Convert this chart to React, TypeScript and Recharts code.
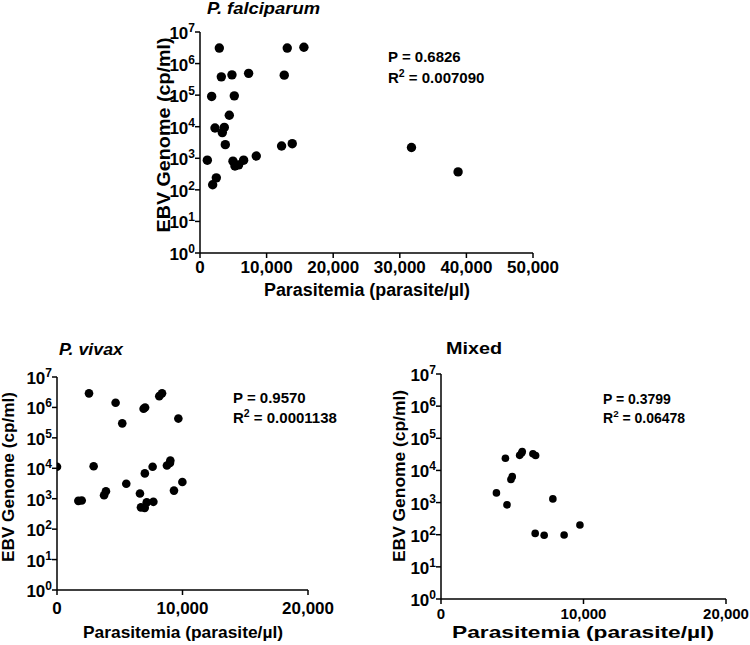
import React from "react";
import { ScatterChart, Scatter, XAxis, YAxis } from "recharts";

// P. falciparum
const FALC_PARASITEMIA = [
  1100, 1900, 1750, 2250, 2450, 2900, 3200, 3350, 3650, 3800, 4400, 4800, 5150,
  4950, 5250, 5800, 6550, 7300, 8450, 12250, 12650, 13100, 13850, 15600, 31750, 38750,
];
const FALC_EBV = [
  870, 145, 91000, 9100, 240, 3100000, 380000, 6500, 9500, 2700, 23000, 440000, 95000,
  810, 570, 620, 870, 490000, 1180, 2450, 430000, 3100000, 2900, 3300000, 2200, 370,
];

// P. vivax
const VIVAX_PARASITEMIA = [
  0, 1700, 1970, 2550, 2920, 3750, 3900, 4670, 5200, 5520, 6610, 6690, 6990, 6900,
  7020, 7000, 7150, 7620, 7680, 8150, 8370, 8760, 9000, 9030, 9320, 9670, 9990,
];
const VIVAX_EBV = [
  11200, 850, 870, 2900000, 11700, 1300, 1750, 1420000, 300000, 3100, 1480, 520, 500,
  900000, 1000000, 6800, 760, 11200, 790, 2350000, 2900000, 12300, 15000, 18000, 1850,
  430000, 3550,
];

// Mixed
const MIXED_PARASITEMIA = [
  3890, 4520, 4630, 4910, 5000, 5520, 5660, 5700, 6450, 6640, 6610, 7240, 7850, 8640, 9750,
];
const MIXED_EBV = [
  2000, 24000, 850, 5200, 6400, 29500, 35000, 39000, 33000, 29000, 110, 96, 1300, 98, 200,
];

const Y_TICKS = [1, 10, 100, 1000, 10000, 100000, 1000000, 10000000];
const X_TICKS_WIDE = [0, 10000, 20000, 30000, 40000, 50000];
const X_TICKS_NARROW = [0, 10000, 20000];

const FONT = "'Liberation Sans', Arial, Helvetica, sans-serif";

function zip(xs: number[], ys: number[]) {
  return xs.map((x, i) => ({ x, y: ys[i] }));
}

function YTick(props: any) {
  const { x, y, payload } = props;
  const exp = Math.round(Math.log10(payload.value));
  return (
    <text x={x} y={y + 7} textAnchor="end" fontSize={17} fontWeight="bold" fill="#000" fontFamily={FONT}>
      10
      <tspan fontSize={12} dy={-7}>
        {exp}
      </tspan>
    </text>
  );
}

function makeXTick(offset: number, size: number) {
  return (props: any) => {
    const { x, y, payload } = props;
    return (
      <text x={x} y={y + offset} textAnchor="middle" fontSize={size} fontWeight="bold" fill="#000" fontFamily={FONT}>
        {payload.value.toLocaleString("en-US")}
      </text>
    );
  };
}

type PanelProps = {
  data: { x: number; y: number }[];
  left: number;
  top: number;
  width: number;
  height: number;
  margin: { top: number; right: number; bottom: number; left: number };
  yAxisWidth: number;
  xMax: number;
  xTicks: number[];
  xTickOffset: number;
  xTickSize: number;
  dotR: number;
  title: string;
  titleItalic: boolean;
  titlePos: [number, number, number, number]; // x, y, size, length
  stat: [string, string];
  statPos: [number, number, number, number]; // x, y1, y2, size
  xTitle: [number, number, number, number]; // cx, y, size, length
  yTitle: [number, number, number, number]; // x, cy, size, length
};

function Panel(p: PanelProps) {
  return (
    <div style={{ position: "absolute", left: p.left, top: p.top }}>
      <ScatterChart width={p.width} height={p.height} margin={p.margin}>
        <XAxis
          type="number"
          dataKey="x"
          domain={[0, p.xMax]}
          ticks={p.xTicks}
          interval={0}
          height={30}
          tickSize={5}
          tickMargin={0}
          axisLine={{ stroke: "#000", strokeWidth: 1.5 }}
          tickLine={{ stroke: "#000", strokeWidth: 1.5 }}
          tick={makeXTick(p.xTickOffset, p.xTickSize)}
          allowDataOverflow
        />
        <YAxis
          type="number"
          dataKey="y"
          scale="log"
          domain={[1, 10000000]}
          ticks={Y_TICKS}
          interval={0}
          width={p.yAxisWidth}
          tickSize={5}
          tickMargin={0}
          axisLine={{ stroke: "#000", strokeWidth: 1.5 }}
          tickLine={{ stroke: "#000", strokeWidth: 1.5 }}
          tick={<YTick />}
          allowDataOverflow
        />
        <Scatter
          data={p.data}
          isAnimationActive={false}
          shape={(s: any) => <circle cx={s.cx} cy={s.cy} r={p.dotR} fill="#000" />}
        />
        <text
          x={p.titlePos[0]}
          y={p.titlePos[1]}
          fontSize={p.titlePos[2]}
          textLength={p.titlePos[3]}
          lengthAdjust="spacingAndGlyphs"
          fontWeight="bold"
          fontStyle={p.titleItalic ? "italic" : "normal"}
          fontFamily={FONT}
          fill="#000"
        >
          {p.title}
        </text>
        <text x={p.statPos[0]} y={p.statPos[1]} fontSize={p.statPos[3]} fontWeight="bold" fontFamily={FONT} fill="#000">
          {p.stat[0]}
        </text>
        <text x={p.statPos[0]} y={p.statPos[2]} fontSize={p.statPos[3]} fontWeight="bold" fontFamily={FONT} fill="#000">
          R
          <tspan fontSize={p.statPos[3] * 0.7} dy={-6}>
            2
          </tspan>
          <tspan dy={6}>{" = " + p.stat[1]}</tspan>
        </text>
        <text
          x={p.xTitle[0]}
          y={p.xTitle[1]}
          fontSize={p.xTitle[2]}
          textLength={p.xTitle[3]}
          lengthAdjust="spacingAndGlyphs"
          textAnchor="middle"
          fontWeight="bold"
          fontFamily={FONT}
          fill="#000"
        >
          Parasitemia (parasite/µl)
        </text>
        <text
          x={p.yTitle[0]}
          y={p.yTitle[1]}
          transform={`rotate(-90, ${p.yTitle[0]}, ${p.yTitle[1]})`}
          fontSize={p.yTitle[2]}
          textLength={p.yTitle[3]}
          lengthAdjust="spacingAndGlyphs"
          textAnchor="middle"
          fontWeight="bold"
          fontFamily={FONT}
          fill="#000"
        >
          EBV Genome (cp/ml)
        </text>
      </ScatterChart>
    </div>
  );
}

export default function App() {
  return (
    <div
      style={{
        position: "absolute",
        left: 0,
        top: 0,
        width: 750,
        height: 645,
        background: "#fff",
        overflow: "hidden",
        fontFamily: FONT,
      }}
    >
      <Panel
        data={zip(FALC_PARASITEMIA, FALC_EBV)}
        left={0}
        top={0}
        width={560}
        height={310}
        margin={{ top: 32, right: 27, bottom: 27, left: 0 }}
        yAxisWidth={200}
        xMax={50000}
        xTicks={X_TICKS_WIDE}
        xTickOffset={15}
        xTickSize={17}
        dotR={4.7}
        title="P. falciparum"
        titleItalic
        titlePos={[207, 14, 17, 113]}
        stat={["P = 0.6826", "0.007090"]}
        statPos={[388, 62, 83, 15]}
        xTitle={[367, 296, 18, 206]}
        yTitle={[170, 135, 18, 195]}
      />
      <Panel
        data={zip(VIVAX_PARASITEMIA, VIVAX_EBV)}
        left={0}
        top={330}
        width={340}
        height={315}
        margin={{ top: 47, right: 32, bottom: 25, left: 0 }}
        yAxisWidth={57}
        xMax={20000}
        xTicks={X_TICKS_NARROW}
        xTickOffset={19}
        xTickSize={17}
        dotR={4.3}
        title="P. vivax"
        titleItalic
        titlePos={[59, 25, 17, 64]}
        stat={["P = 0.9570", "0.0001138"]}
        statPos={[233, 73, 93, 15]}
        xTitle={[183, 308, 17, 200]}
        yTitle={[14, 147, 17, 170]}
      />
      <Panel
        data={zip(MIXED_PARASITEMIA, MIXED_EBV)}
        left={380}
        top={330}
        width={370}
        height={315}
        margin={{ top: 44, right: 24, bottom: 16, left: 0 }}
        yAxisWidth={61}
        xMax={20000}
        xTicks={X_TICKS_NARROW}
        xTickOffset={15}
        xTickSize={15}
        dotR={3.8}
        title="Mixed"
        titleItalic={false}
        titlePos={[66, 24, 16, 56]}
        stat={["P = 0.3799", "0.06478"]}
        statPos={[223, 74, 93, 14]}
        xTitle={[203, 308, 17, 262]}
        yTitle={[25, 146, 17, 172]}
      />
    </div>
  );
}
